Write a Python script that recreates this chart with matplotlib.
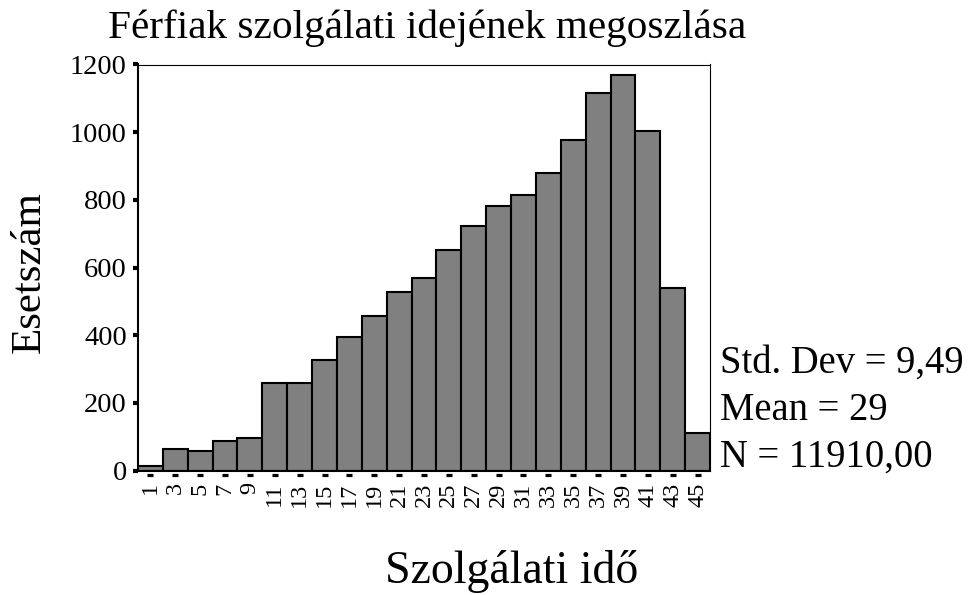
import numpy as np
import matplotlib
matplotlib.use("Agg")
import matplotlib.pyplot as plt
from matplotlib.transforms import blended_transform_factory, offset_copy

plt.rcParams["font.family"] = ["Liberation Serif", "DejaVu Serif"]

# histogram of service years (bin width 2, centres 1..45)
bin_centers = [1, 3, 5, 7, 9, 11, 13, 15, 17, 19, 21, 23, 25, 27, 29, 31, 33, 35, 37, 39, 41, 43, 45]
counts = [12, 64, 59, 88, 95, 260, 260, 326, 396, 456, 527, 569, 651, 724, 783, 813, 878, 978, 1115, 1168, 1003, 538, 112]
y_ticks = [0, 200, 400, 600, 800, 1000, 1200]

title = "Férfiak szolgálati idejének megoszlása"
x_label = "Szolgálati idő"
y_label = "Esetszám"
stats = ["Std. Dev = 9,49", "Mean = 29", "N = 11910,00"]

W, H = 973, 595
fig = plt.figure(figsize=(W / 100, H / 100), dpi=100)
ax = fig.add_axes([138 / W, 1 - 470.5 / H, (710 - 138) / W, (470.5 - 64.5) / H])

ax.bar(bin_centers, counts, width=2, color="#808080", edgecolor="black", linewidth=1.5)
ax.set_xlim(0, 46)
ax.set_ylim(0, 1200)

ax.set_yticks(y_ticks)
ax.set_xticks(bin_centers)
ax.set_xticklabels([str(c) for c in bin_centers], rotation=90)
ax.tick_params(axis="y", direction="out", length=3.5, width=3, labelsize=20.5, pad=4.5)
ax.tick_params(axis="x", length=0, labelsize=17.5, pad=8.5)

for side in ("left", "bottom"):
    ax.spines[side].set_linewidth(1.5)
for side in ("top", "right"):
    ax.spines[side].set_linewidth(0.8)

# small dashes just below the x axis at each bin centre
trans = offset_copy(blended_transform_factory(ax.transData, ax.transAxes), fig=fig, x=0, y=-4.5, units="dots")
ax.plot(bin_centers, [0] * len(bin_centers), linestyle="none", marker="_",
        markersize=4.3, markeredgewidth=2.3, color="black", transform=trans, clip_on=False)

fig.text(108 / W, 1 - 38 / H, title, fontsize=29.7, ha="left", va="baseline")
fig.text(512 / W, 1 - 583 / H, x_label, fontsize=33, ha="center", va="baseline")
fig.text(49 / W, 1 - 272 / H, y_label, fontsize=31, rotation=90, ha="right", va="center")

for i, s in enumerate(stats):
    fig.text(720 / W, 1 - (373 + 47 * i) / H, s, fontsize=27.8, ha="left", va="baseline")

fig.savefig("out.png", dpi=100)
